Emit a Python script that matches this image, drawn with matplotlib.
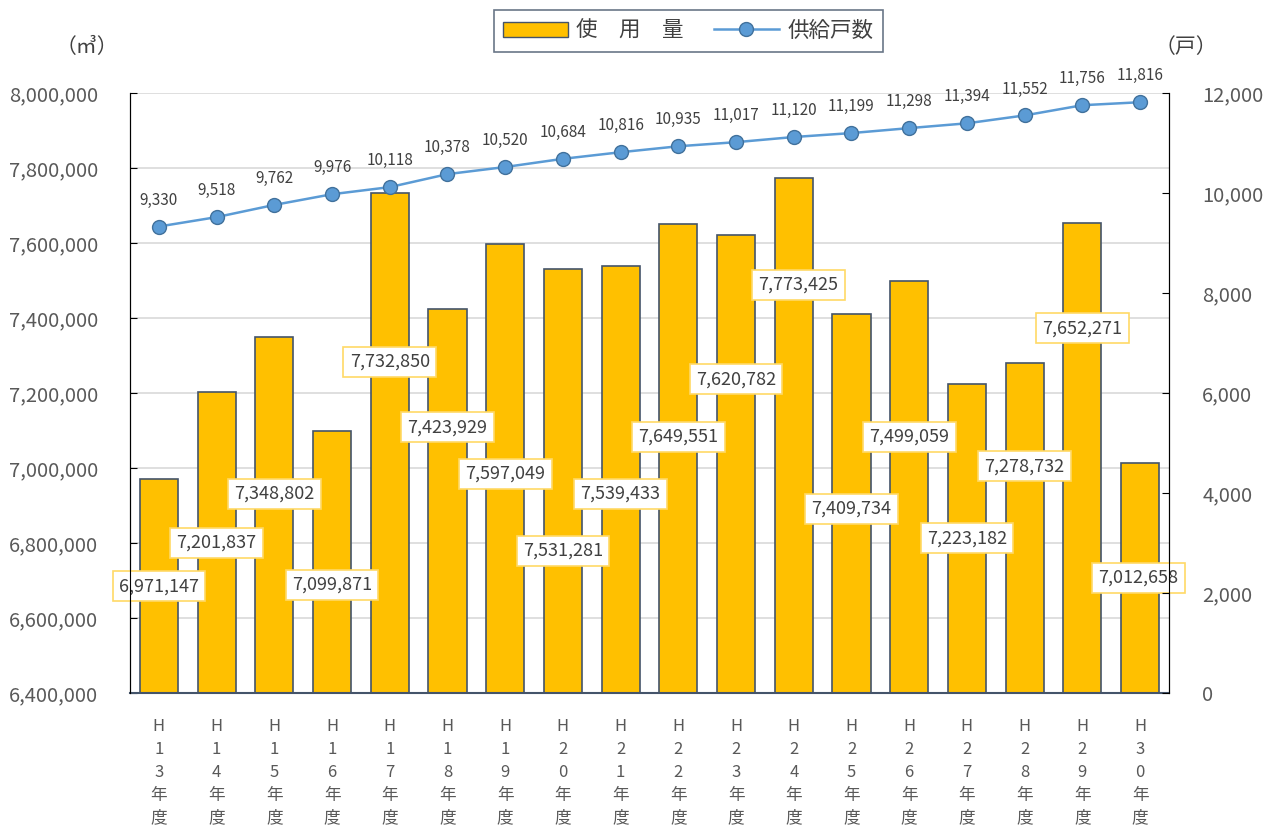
import matplotlib
matplotlib.use("Agg")
import matplotlib.pyplot as plt
from matplotlib.ticker import FuncFormatter, MultipleLocator
from matplotlib.lines import Line2D
from matplotlib.patches import Patch

plt.rcParams['font.family'] = ['Noto Sans CJK JP', 'DejaVu Sans']

categories = ["H\n1\n3\n年\n度", "H\n1\n4\n年\n度", "H\n1\n5\n年\n度", "H\n1\n6\n年\n度",
              "H\n1\n7\n年\n度", "H\n1\n8\n年\n度", "H\n1\n9\n年\n度", "H\n2\n0\n年\n度",
              "H\n2\n1\n年\n度", "H\n2\n2\n年\n度", "H\n2\n3\n年\n度", "H\n2\n4\n年\n度",
              "H\n2\n5\n年\n度", "H\n2\n6\n年\n度", "H\n2\n7\n年\n度", "H\n2\n8\n年\n度",
              "H\n2\n9\n年\n度", "H\n3\n0\n年\n度"]
usage = [6971147, 7201837, 7348802, 7099871, 7732850, 7423929, 7597049, 7531281, 7539433,
         7649551, 7620782, 7773425, 7409734, 7499059, 7223182, 7278732, 7652271, 7012658]
households = [9330, 9518, 9762, 9976, 10118, 10378, 10520, 10684, 10816,
              10935, 11017, 11120, 11199, 11298, 11394, 11552, 11756, 11816]
# y position (left axis units) of each bar's data label, as placed in the reference
label_y = [6685000, 6800000, 6931000, 6688000, 7283000, 7109000, 6984000, 6779000, 6931000,
           7083000, 7237000, 7488000, 6891000, 7083000, 6813000, 7005000, 7373000, 6707000]
label_dx = [0, 0, 0, 0, 0, 0, 0, 0, 0, 0, 0, 0.08, 0, 0, 0, 0, 0, -0.03]

fig = plt.figure(figsize=(12.71, 8.38), dpi=100)
ax = fig.add_axes([0.1023, 0.1730, 0.8174, 0.7160])
ax2 = ax.twinx()

x = list(range(len(categories)))
bar_color = "#FFC000"
line_color = "#5B9BD5"
tick_color = "#595959"

ax.bar(x, usage, width=0.66, color=bar_color, edgecolor="#44546A", linewidth=1.2, zorder=2)
ax.set_ylim(6400000, 8000000)
ax.set_xlim(-0.5, len(categories) - 0.5)
ax.yaxis.set_major_locator(MultipleLocator(200000))
ax.yaxis.set_major_formatter(FuncFormatter(lambda v, p: f"{int(v):,}"))
ax.grid(axis='y', color="#D9D9D9", linewidth=1.2, zorder=0)
ax.set_axisbelow(True)
ax.set_xticks(x)
ax.set_xticklabels(categories, linespacing=1.45)
ax.tick_params(axis='x', length=0, pad=18, labelsize=12, labelcolor=tick_color)
ax.tick_params(axis='y', direction='in', length=5, pad=23, labelsize=14.5, labelcolor=tick_color)

for s in ['left', 'right']:
    ax.spines[s].set_color('black')
ax.spines['top'].set_visible(False)
ax.spines['bottom'].set_color('#44546A')
ax.spines['bottom'].set_linewidth(1.5)

for i, (v, ly) in enumerate(zip(usage, label_y)):
    ax.text(i + label_dx[i], ly, f"{v:,}", ha='center', va='center', fontsize=13,
            color="#404040", zorder=5,
            bbox=dict(boxstyle='square,pad=0.35', facecolor='white', edgecolor='#FFD966', linewidth=1.2))

ax2.plot(x, households, color=line_color, linewidth=1.8, marker='o', markersize=10,
         markerfacecolor=line_color, markeredgecolor="#41719C", markeredgewidth=1, zorder=4)
ax2.set_ylim(0, 12000)
ax2.yaxis.set_major_locator(MultipleLocator(2000))
ax2.yaxis.set_major_formatter(FuncFormatter(lambda v, p: f"{int(v):,}"))
ax2.tick_params(axis='y', direction='in', length=5, pad=24, labelsize=14.5, labelcolor=tick_color)
ax2.spines['top'].set_visible(False)
ax2.spines['right'].set_color('black')
ax2.spines['bottom'].set_visible(False)

for i, h in enumerate(households):
    ax2.annotate(f"{h:,}", (i, h), textcoords='offset points', xytext=(0, 19),
                 ha='center', va='center', fontsize=11, color="#404040")

fig.text(0.068, 0.944, "（㎥）", ha='center', va='center', fontsize=15, color="#404040")
fig.text(0.933, 0.944, "（戸）", ha='center', va='center', fontsize=15, color="#404040")

handles = [Patch(facecolor=bar_color, edgecolor="#44546A", linewidth=1),
           Line2D([0], [0], color=line_color, linewidth=1.8, marker='o', markersize=10,
                  markerfacecolor=line_color, markeredgecolor="#41719C")]
leg = fig.legend(handles, ["使　用　量", "供給戸数"], loc='center', bbox_to_anchor=(0.5415, 0.963),
                 ncol=2, frameon=True, fancybox=False, fontsize=15.5, handlelength=3.0,
                 columnspacing=1.4, handletextpad=0.4, borderpad=0.45, borderaxespad=0)
leg.get_frame().set_edgecolor("#44546A")
leg.get_frame().set_linewidth(1.2)
for t in leg.get_texts():
    t.set_color("#404040")

fig.savefig("out.png", dpi=100)
